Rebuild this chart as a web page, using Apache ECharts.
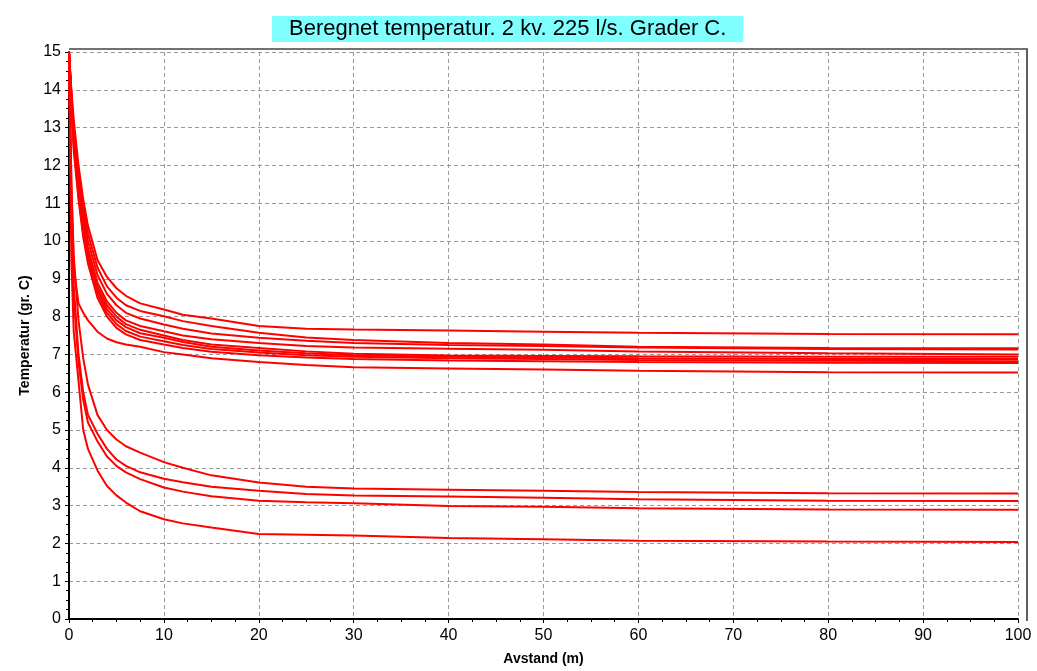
<!DOCTYPE html>
<html>
<head>
<meta charset="utf-8">
<script src="https://cdn.jsdelivr.net/npm/echarts@6/dist/echarts.min.js"></script>
<style>
html,body{margin:0;padding:0;background:#fff;}
#c{width:1037px;height:671px;}
</style>
</head>
<body>
<div id="c"></div>
<script>
// Distance (m) sample positions shared by all curves
const distance = [0,0.25,0.5,1,1.5,2,3,4,5,6,7.5,10,12,15,20,25,30,40,50,60,80,100];

// Upper group of curves (temperature, gr. C)
const u1 = [15,14.0,13.2,12.0,11.1,10.4,9.5,9.05,8.75,8.55,8.35,8.19,8.05,7.95,7.75,7.68,7.66,7.63,7.60,7.57,7.54,7.53];
const u2 = [15,13.9,13.0,11.8,10.9,10.2,9.3,8.8,8.5,8.3,8.15,8.01,7.88,7.75,7.57,7.45,7.38,7.30,7.26,7.20,7.17,7.16];
const u3 = [15,13.85,12.9,11.6,10.7,10.0,9.1,8.6,8.3,8.1,7.95,7.79,7.68,7.55,7.44,7.36,7.30,7.25,7.22,7.18,7.14,7.13];
const u4 = [15,13.8,12.8,11.5,10.5,9.8,8.9,8.4,8.1,7.9,7.75,7.61,7.50,7.40,7.30,7.22,7.18,7.15,7.12,7.08,7.03,7.00];
const u5 = [15,13.75,12.7,11.4,10.4,9.7,8.8,8.3,8.0,7.8,7.65,7.50,7.38,7.26,7.17,7.08,7.02,6.97,6.96,6.95,6.94,6.94];
const u6 = [15,13.7,12.6,11.3,10.3,9.6,8.7,8.2,7.9,7.72,7.56,7.44,7.33,7.20,7.10,7.03,6.98,6.94,6.92,6.90,6.88,6.88];
const u7 = [15,13.65,12.5,11.2,10.2,9.5,8.6,8.1,7.8,7.62,7.47,7.35,7.25,7.14,7.05,6.98,6.94,6.90,6.88,6.85,6.83,6.82];
const u8 = [15,13.6,12.4,11.1,10.1,9.4,8.5,8.0,7.7,7.53,7.38,7.26,7.17,7.07,6.98,6.92,6.88,6.84,6.82,6.80,6.78,6.77];
const u9 = [15,11.5,9.3,8.35,8.1,7.9,7.6,7.42,7.32,7.26,7.2,7.06,7.0,6.9,6.8,6.72,6.66,6.63,6.60,6.57,6.53,6.52];

// Lower group of curves
const l1 = [15,11.5,9.6,7.9,6.9,6.2,5.4,5.0,4.75,4.57,4.4,4.15,4.0,3.8,3.61,3.5,3.45,3.42,3.39,3.36,3.33,3.32];
const l2 = [15,10.8,8.8,7.0,6.0,5.4,4.9,4.5,4.22,4.05,3.88,3.71,3.62,3.50,3.39,3.31,3.27,3.24,3.21,3.17,3.13,3.12];
const l3 = [15,10.5,8.5,6.8,5.8,5.2,4.7,4.3,4.05,3.88,3.70,3.48,3.37,3.25,3.13,3.09,3.06,2.99,2.97,2.93,2.90,2.89];
const l4 = [15,9.5,7.6,6.3,5.0,4.5,3.93,3.52,3.27,3.08,2.85,2.64,2.53,2.42,2.25,2.23,2.21,2.14,2.11,2.07,2.05,2.04];

const curves = [u1,u2,u3,u4,u5,u6,u7,u8,u9,l1,l2,l3,l4];

const titleText = 'Beregnet temperatur. 2 kv. 225 l/s. Grader C.';
const xName = 'Avstand (m)';
const yName = 'Temperatur (gr. C)';

const FONT = '"Liberation Sans", Arial, sans-serif';
const chart = echarts.init(document.getElementById('c'), null, {renderer:'canvas'});

const gridLine = {show:true, lineStyle:{color:'#999', type:[4,3], width:1}};

chart.setOption({
  animation:false,
  backgroundColor:'#fff',
  title:{
    text:titleText,
    left:272, top:16,
    padding:[2,17,2,17],
    backgroundColor:'#80ffff',
    textStyle:{fontFamily:FONT, fontSize:22, fontWeight:'normal', color:'#000', lineHeight:22}
  },
  grid:{left:69, right:19, top:52, bottom:51, containLabel:false},
  xAxis:{
    type:'value', min:0, max:100, interval:10,
    name:xName, nameLocation:'middle', nameGap:33,
    nameTextStyle:{fontFamily:FONT, fontSize:14, fontWeight:'bold', color:'#000'},
    axisLine:{show:true, onZero:false, lineStyle:{color:'#000', width:2}},
    axisTick:{show:true, length:4, lineStyle:{color:'#000'}},
    minorTick:{show:true, splitNumber:4, length:3, lineStyle:{color:'#000'}},
    axisLabel:{fontFamily:FONT, fontSize:16, color:'#000', margin:9},
    splitLine:gridLine
  },
  yAxis:{
    type:'value', min:0, max:15, interval:1,
    name:yName, nameLocation:'middle', nameGap:34,
    nameTextStyle:{fontFamily:FONT, fontSize:14, fontWeight:'bold', color:'#000'},
    axisLine:{show:true, onZero:false, lineStyle:{color:'#000', width:2}},
    axisTick:{show:true, length:4, lineStyle:{color:'#000'}},
    minorTick:{show:true, splitNumber:4, length:3, lineStyle:{color:'#000'}},
    axisLabel:{fontFamily:FONT, fontSize:16, color:'#000', margin:8},
    splitLine:gridLine
  },
  graphic:[
    {type:'line', z:100, shape:{x1:69, y1:49, x2:1028, y2:49}, style:{stroke:'#707070', lineWidth:2}},
    {type:'line', z:100, shape:{x1:1027, y1:49, x2:1027, y2:621}, style:{stroke:'#606060', lineWidth:2}}
  ],
  series: curves.map(vals => ({
    type:'line',
    data: distance.map((d,i) => [d, vals[i]]),
    showSymbol:false,
    symbol:'none',
    lineStyle:{color:'#ff0000', width:2},
    clip:true
  }))
});
</script>
</body>
</html>
